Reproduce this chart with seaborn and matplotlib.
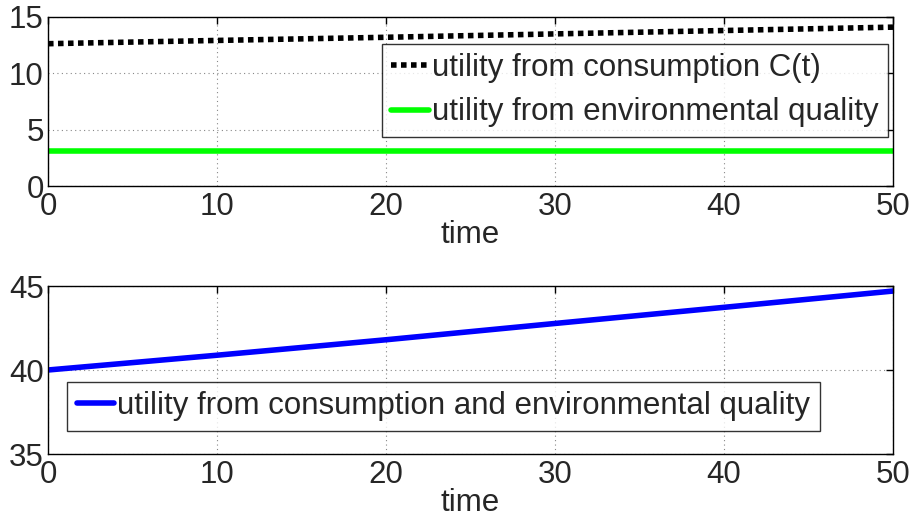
import numpy as np
import pandas as pd
import matplotlib
matplotlib.use("Agg")
import matplotlib.pyplot as plt
import seaborn as sns

time = [0, 10, 20, 30, 40, 50]
u_consumption = [12.63, 12.92, 13.20, 13.50, 13.80, 14.10]
u_environment = [3.15, 3.15, 3.15, 3.15, 3.15, 3.15]
u_total = [40.0, 40.88, 41.8, 42.77, 43.73, 44.7]

sns.set_style("white")
plt.rcParams['font.family'] = ['Liberation Sans', 'DejaVu Sans']
FS = 22.5

fig = plt.figure(figsize=(9.15, 5.17), dpi=100)
W, H = 915, 517
ax1 = fig.add_axes([48 / W, 1 - 186 / H, (893 - 48) / W, (186 - 17) / H])
ax2 = fig.add_axes([48 / W, 1 - 454 / H, (893 - 48) / W, (454 - 286) / H])

df1 = pd.DataFrame({"time": time, "c": u_consumption, "e": u_environment})
df2 = pd.DataFrame({"time": time, "t": u_total})

sns.lineplot(data=df1, x="time", y="c", ax=ax1, color="black", lw=4,
             linestyle=(0, (1, 0.8)), label="utility from consumption C(t)")
sns.lineplot(data=df1, x="time", y="e", ax=ax1, color="#00ff00", lw=4,
             label="utility from environmental quality")
sns.lineplot(data=df2, x="time", y="t", ax=ax2, color="#0000ff", lw=4,
             label="utility from consumption and environmental quality")

for ax, ylim, yt in [(ax1, (0, 15), [0, 5, 10, 15]), (ax2, (35, 45), [35, 40, 45])]:
    ax.set_xlim(0, 50)
    ax.set_ylim(*ylim)
    ax.set_xticks([0, 10, 20, 30, 40, 50])
    ax.set_yticks(yt)
    ax.grid(True, color="#888888", linestyle=(0, (1, 3)), linewidth=0.8)
    ax.tick_params(direction="in", length=5, top=True, right=True, labelsize=FS,
                   color="black", width=1)
    ax.tick_params(axis="x", pad=4)
    ax.tick_params(axis="y", pad=3)
    for s in ax.spines.values():
        s.set_visible(True)
        s.set_color("black")
        s.set_linewidth(1)
    ax.set_xlabel("time", fontsize=FS, labelpad=-1)
    ax.set_ylabel("")

leg1 = ax1.legend(loc="upper right", bbox_to_anchor=(0.994, 0.84), fontsize=FS, frameon=True,
                  fancybox=False, edgecolor="black", handlelength=1.2, handletextpad=0.1,
                  borderpad=0.3, labelspacing=0.45, borderaxespad=0)
leg1.get_frame().set_linewidth(1)
leg2 = ax2.legend(loc="upper left", bbox_to_anchor=(0.023, 0.43), fontsize=FS, frameon=True,
                  fancybox=False, edgecolor="black", handlelength=1.2, handletextpad=0.1,
                  borderpad=0.3, borderaxespad=0)
leg2.get_frame().set_linewidth(1)

fig.savefig("out.png", dpi=100)
